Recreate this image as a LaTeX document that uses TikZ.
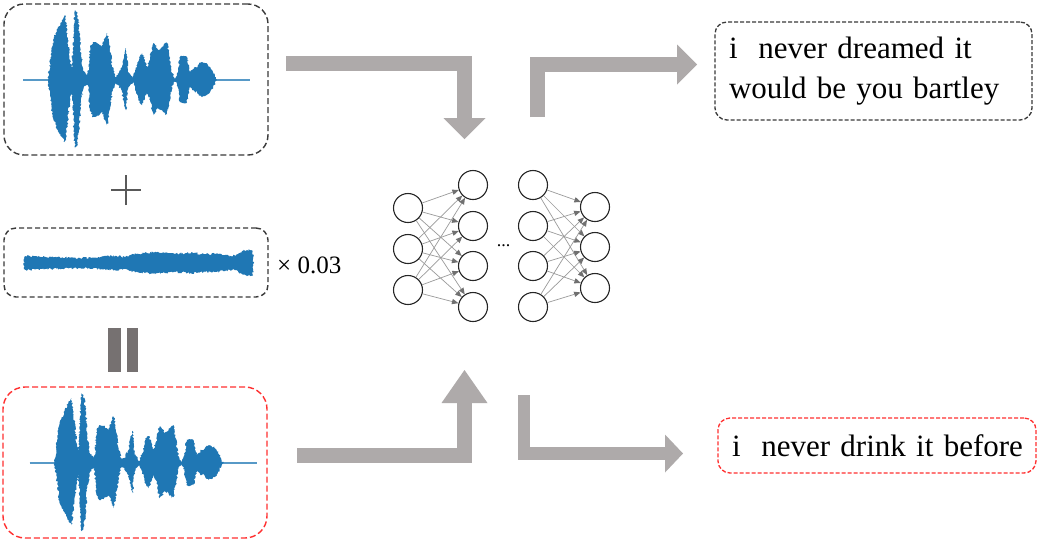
\documentclass[tikz,border=0pt]{standalone}
\usepackage{fontspec}
\setmainfont{Liberation Serif}
\usetikzlibrary{arrows.meta,decorations.pathmorphing}
\definecolor{wave}{HTML}{1F77B4}
\definecolor{arrowgray}{HTML}{AEAAAA}
\definecolor{eqgray}{HTML}{767171}
\definecolor{plusgray}{HTML}{595959}
\definecolor{boxred}{HTML}{FF3030}
\definecolor{boxblack}{HTML}{3A3A3A}
\definecolor{linkgray}{HTML}{9A9A9A}
\definecolor{tipgray}{HTML}{707070}
\newcommand\speechwave{%
  \draw[wave!75, line width=1.5pt] (-25,0) -- (202,0);
  \fill[wave, decorate, decoration={random steps,segment length=1.3pt,amplitude=1pt}]
   (0,0) -- (2,-17) -- (5,-40) -- (10,-52) -- (14,-60) -- (17,-65) -- (20,-40) -- (22,-20) -- (24,-13) -- (26,-50) -- (27,-70) -- (29,-68) -- (31,-55) -- (33,-25) -- (35,-12) -- (37,-7) -- (40,-5) -- (42,-33) -- (45,-38) -- (49,-37) -- (52,-35) -- (54,-33) -- (57,-42) -- (59,-47) -- (61,-38) -- (62,-30) -- (64,-15) -- (67,-3) -- (70,-5) -- (74,-13) -- (76,-25) -- (78,-32) -- (79,-20) -- (80,-10) -- (83,-4) -- (85,-2) -- (87,-8) -- (90,-18) -- (92,-25) -- (94,-27) -- (97,-20) -- (99,-13) -- (102,-22) -- (105,-37) -- (107,-35) -- (110,-30) -- (114,-33) -- (117,-37) -- (119,-38) -- (121,-25) -- (124,-7) -- (127,-1) -- (130,-8) -- (132,-23) -- (135,-24) -- (139,-23) -- (141,-15) -- (142,-8) -- (144,-10) -- (147,-13) -- (149,-12) -- (151,-16) -- (154,-18) -- (157,-17) -- (160,-15) -- (162,-13) -- (165,-8) -- (167,-3) -- (169,0)
   -- (167,3) -- (165,7) -- (162,12) -- (160,14) -- (157,16) -- (154,17) -- (151,15) -- (149,11) -- (147,12) -- (144,9) -- (142,7) -- (141,13) -- (139,22) -- (135,23) -- (132,22) -- (130,8) -- (127,1) -- (124,6) -- (121,22) -- (119,34) -- (117,35) -- (114,30) -- (110,28) -- (107,33) -- (105,35) -- (102,20) -- (99,12) -- (97,18) -- (94,25) -- (92,23) -- (90,16) -- (87,7) -- (85,2) -- (83,4) -- (80,9) -- (79,18) -- (78,30) -- (76,22) -- (74,12) -- (70,5) -- (67,3) -- (64,14) -- (62,28) -- (61,36) -- (59,45) -- (57,40) -- (54,32) -- (52,34) -- (49,36) -- (45,37) -- (42,31) -- (40,5) -- (37,6) -- (35,10) -- (33,22) -- (31,52) -- (29,66) -- (27,68) -- (26,48) -- (24,12) -- (22,18) -- (20,38) -- (17,62) -- (14,57) -- (10,50) -- (5,38) -- (2,16) -- cycle;%
}
\begin{document}
\begin{tikzpicture}[x=1pt,y=-1pt,
  wavebox/.style={draw=boxblack, line width=1.4pt, dash pattern=on 6pt off 3pt, rectangle, rounded corners=20pt, minimum width=264pt, minimum height=151pt, inner sep=0pt},
  redwavebox/.style={wavebox, draw=boxred, rounded corners=22pt},
  noisebox/.style={wavebox, dash pattern=on 5pt off 3pt, rounded corners=12pt, minimum height=69pt},
  textbox/.style={draw=boxblack, line width=1.3pt, dash pattern=on 4pt off 2pt, rounded corners=12pt, inner xsep=14pt, inner ysep=0pt, align=left, font=\fontsize{31}{40}\selectfont},
  redtextbox/.style={textbox, draw=boxred},
  neuron/.style={circle, draw=black!85, line width=1.1pt, fill=white, minimum size=29pt, inner sep=0pt},
  link/.style={draw=linkgray, line width=0.7pt, -{Triangle[length=6.5pt,width=5.5pt,line width=0pt,color=tipgray]}},
  bigarrow/.style={draw=arrowgray, line width=15pt, line join=miter},
]
\useasboundingbox (0,0) rectangle (1042,542);
\fill[white] (0,0) rectangle (1042,542);

% boxes
\node[wavebox] (clean) at (136,79.5) {};
\node[noisebox] (noise) at (136,262.5) {};
\node[redwavebox] (adv) at (135,462.5) {};

% waveforms
\begin{scope}[shift={(48,80)}]\speechwave\end{scope}
\begin{scope}[shift={(54.5,463)}]\speechwave\end{scope}
\fill[wave, decorate, decoration={random steps,segment length=1.2pt,amplitude=1.1pt}]
  (24,257) -- (26,256) -- (40,257) -- (60,257.5) -- (80,258) -- (100,257) -- (115,256) -- (125,257) -- (130,255) -- (145,253) -- (155,252) -- (165,253) -- (175,254) -- (190,253) -- (205,254) -- (215,254) -- (225,255) -- (232,256) -- (238,254) -- (242,251) -- (247,250) -- (253,251) -- (253,275) -- (247,276) -- (242,274) -- (238,271) -- (232,270) -- (225,271) -- (215,272) -- (205,272) -- (190,273) -- (175,272) -- (165,273) -- (155,274) -- (145,273) -- (130,271) -- (125,269) -- (115,270) -- (100,269) -- (80,268) -- (60,268.5) -- (40,269) -- (26,270) -- (24,269) -- cycle;

% plus sign
\coordinate (plus) at (126,190);
\draw[plusgray, line width=2.8pt] ([xshift=-15pt]plus) -- ([xshift=15pt]plus);
\draw[plusgray, line width=2.8pt] ([yshift=-15pt]plus) -- ([yshift=15pt]plus);

% scale factor
\node[anchor=west, inner sep=0pt, font=\fontsize{25}{30}\selectfont] (scale) at (277,265) {× 0.03};

% equals bars
\fill[eqgray] (108,328) rectangle (121,372);
\fill[eqgray] (126.5,328) rectangle (138,372);

% text boxes
\node[textbox, text width=289pt, minimum height=98pt] (out1) at (873.5,71) {\mbox{i\ \ never dreamed it}\\\mbox{would be you bartley}};
\node[redtextbox, text width=290pt, minimum height=55pt] (out2) at (877,445.5) {\mbox{i\ \ never drink it before}};

% network
\foreach \n/\y in {1/208,2/249,3/290} \node[neuron] (a\n) at (408,\y) {};
\foreach \n/\y in {1/185,2/226,3/266,4/307} \node[neuron] (b\n) at (473,\y) {};
\foreach \n/\y in {1/185,2/226,3/266,4/307} \node[neuron] (c\n) at (533,\y) {};
\foreach \n/\y in {1/207,2/247,3/288} \node[neuron] (d\n) at (595,\y) {};
\foreach \i in {1,2,3} \foreach \j in {1,2,3,4} \draw[link] (a\i) -- (b\j);
\foreach \i in {1,2,3,4} \foreach \j in {1,2,3} \draw[link] (c\i) -- (d\j);
\node[font=\fontsize{18}{18}\selectfont, inner sep=0pt] (dots) at (503.5,246) {...};

% big arrows
\coordinate (s1) at (286,63.5);
\coordinate (e1) at (464.5,139);
\draw[bigarrow, -{Triangle[width=42pt,length=21pt,line width=0pt]}] (s1) -| (e1);
\coordinate (s2) at (537.5,117);
\coordinate (e2) at (697,64.5);
\draw[bigarrow, -{Triangle[width=40pt,length=20pt,line width=0pt]}] (s2) |- (e2);
\coordinate (s3) at (297,455.5);
\coordinate (e3) at (464.5,370);
\draw[bigarrow, -{Triangle[width=46pt,length=33pt,line width=0pt]}] (s3) -| (e3);
\coordinate (s4) at (524,395);
\coordinate (e4) at (683,453.5);
\draw[bigarrow, line width=12.5pt, -{Triangle[width=38pt,length=18pt,line width=0pt]}] (s4) |- (e4);
\end{tikzpicture}
\end{document}
